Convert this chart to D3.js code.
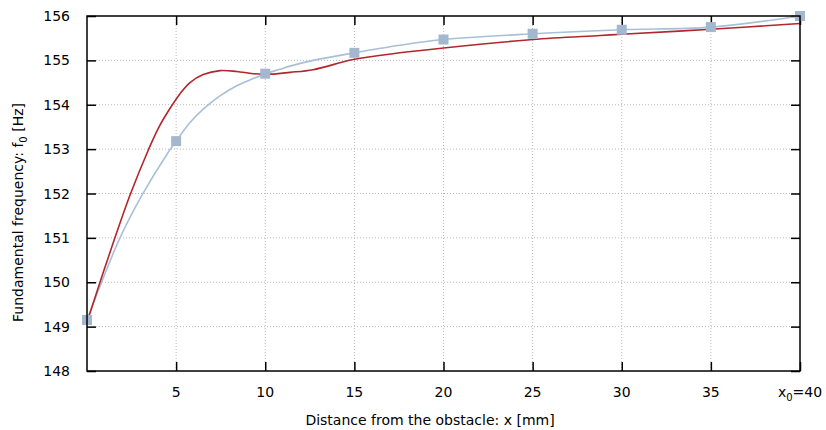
<!DOCTYPE html>
<html>
<head>
<meta charset="utf-8">
<script src="https://cdn.jsdelivr.net/npm/d3@7"></script>
<style>
  body { margin: 0; background: #fff; }
  svg { display: block; font-family: "DejaVu Sans", sans-serif; }
</style>
</head>
<body>
<svg id="chart" width="826" height="430"></svg>
<script>
// Measured points (squares)
const measX = [0, 5, 10, 15, 20, 25, 30, 35, 40];
const measF = [149.15, 153.18, 154.70, 155.17, 155.47, 155.60, 155.69, 155.75, 156.0];

const blueX = [0, 0.82, 1.85, 3.07, 4.56, 5, 5.78, 6.52, 7.46, 8.4, 9.33, 10, 10.82, 11.39, 12.69, 15, 17.55, 20, 25, 30, 35, 40];
const blueF = [149.15, 150, 151, 151.95, 152.93, 153.18, 153.60, 153.90, 154.20, 154.43, 154.59, 154.70, 154.80, 154.87, 155.0, 155.17, 155.34, 155.47, 155.60, 155.69, 155.75, 156.0];

// Red model curve
const redX = [0, 0.73, 1.48, 2.41, 3.44, 4.0, 4.66, 5.22, 5.78, 6.52, 7.46, 8.4, 9.33, 10.26, 11.39, 12.69, 14.94, 17.55, 20, 25, 28.8, 30, 35, 40];
const redF = [149.1, 150, 150.9, 151.96, 152.98, 153.47, 153.92, 154.25, 154.5, 154.68, 154.77, 154.75, 154.70, 154.69, 154.73, 154.79, 155.02, 155.17, 155.28, 155.47, 155.56, 155.59, 155.70, 155.83];

const xTicks = [5, 10, 15, 20, 25, 30, 35, 40];
const yTicks = [148, 149, 150, 151, 152, 153, 154, 155, 156];

const svg = d3.select("#chart");
const L = 87, R = 800, T = 16, B = 371;
const x = d3.scaleLinear().domain([0, 40]).range([L, R]);
const y = d3.scaleLinear().domain([148, 156]).range([B, T]);

// Grid
const grid = svg.append("g");
grid.selectAll("line.gx").data(xTicks.filter(d => d < 40)).enter().append("line")
  .attr("x1", d => x(d)).attr("x2", d => x(d)).attr("y1", T).attr("y2", B)
  .attr("stroke", "#b8b8b8").attr("stroke-width", 1).attr("stroke-dasharray", "1,2");
grid.selectAll("line.gy").data(yTicks.filter(d => d > 148 && d < 156)).enter().append("line")
  .attr("x1", L).attr("x2", R).attr("y1", d => y(d)).attr("y2", d => y(d))
  .attr("stroke", "#b8b8b8").attr("stroke-width", 1).attr("stroke-dasharray", "1,2");

// Axes with inward ticks
const tl = 9;
const xAxisB = d3.axisBottom(x).tickValues(xTicks).tickSize(-tl).tickFormat("");
const xAxisT = d3.axisTop(x).tickValues(xTicks).tickSize(-tl).tickFormat("");
const yAxisL = d3.axisLeft(y).tickValues(yTicks).tickSize(-tl).tickFormat("");
const yAxisR = d3.axisRight(y).tickValues(yTicks).tickSize(-tl).tickFormat("");
function styleAxis(g) {
  g.select(".domain").remove();
  g.selectAll(".tick line").attr("stroke", "#000").attr("stroke-width", 1.5);
}
svg.append("g").attr("transform", `translate(0,${B})`).call(xAxisB).call(styleAxis);
svg.append("g").attr("transform", `translate(0,${T})`).call(xAxisT).call(styleAxis);
svg.append("g").attr("transform", `translate(${L},0)`).call(yAxisL).call(styleAxis);
svg.append("g").attr("transform", `translate(${R},0)`).call(yAxisR).call(styleAxis);

// Tick labels
svg.append("g").selectAll("text").data(yTicks).enter().append("text")
  .attr("x", 70).attr("y", d => y(d) + 5)
  .attr("text-anchor", "end").attr("font-size", 14).attr("fill", "#000")
  .text(d => d);
svg.append("g").selectAll("text").data(xTicks.filter(d => d < 40)).enter().append("text")
  .attr("x", d => x(d)).attr("y", 397)
  .attr("text-anchor", "middle").attr("font-size", 14).attr("fill", "#000")
  .text(d => d);
const lastLab = svg.append("text").attr("x", x(40)).attr("y", 397)
  .attr("text-anchor", "middle").attr("font-size", 14).attr("fill", "#000");
lastLab.append("tspan").text("x");
lastLab.append("tspan").attr("font-size", 10).attr("dy", 4).text("0");
lastLab.append("tspan").attr("dy", -4).text("=" + xTicks[xTicks.length - 1]);

// Axis titles
svg.append("text").attr("x", 430).attr("y", 425)
  .attr("text-anchor", "middle").attr("font-size", 14).attr("fill", "#000")
  .text("Distance from the obstacle: x [mm]");
const yl = svg.append("text").attr("transform", "translate(23,212.5) rotate(-90)")
  .attr("text-anchor", "middle").attr("font-size", 14).attr("fill", "#000");
yl.append("tspan").text("Fundamental frequency: f");
yl.append("tspan").attr("font-size", 10).attr("dy", 4).text("0");
yl.append("tspan").attr("dy", -4).text(" [Hz]");

// Curves
const blueData = blueX.map((d, i) => [d, blueF[i]]);
const redData = redX.map((d, i) => [d, redF[i]]);
const line = d3.line().x(d => x(d[0])).y(d => y(d[1])).curve(d3.curveCatmullRom.alpha(0.5));

svg.append("path").datum(blueData).attr("d", line)
  .attr("fill", "none").attr("stroke", "#a7c0d8").attr("stroke-width", 1.6);
svg.append("path").datum(redData).attr("d", line)
  .attr("fill", "none").attr("stroke", "#b2262c").attr("stroke-width", 1.6);

// Squares
const s = 10;
svg.append("g").selectAll("rect").data(measX.map((d, i) => [d, measF[i]])).enter().append("rect")
  .attr("x", d => x(d[0]) - s / 2).attr("y", d => y(d[1]) - s / 2)
  .attr("width", s).attr("height", s).attr("fill", "#a3b7cf");

// Frame
svg.append("rect").attr("x", L).attr("y", T).attr("width", R - L).attr("height", B - T)
  .attr("fill", "none").attr("stroke", "#000").attr("stroke-width", 1.5);
</script>
</body>
</html>
